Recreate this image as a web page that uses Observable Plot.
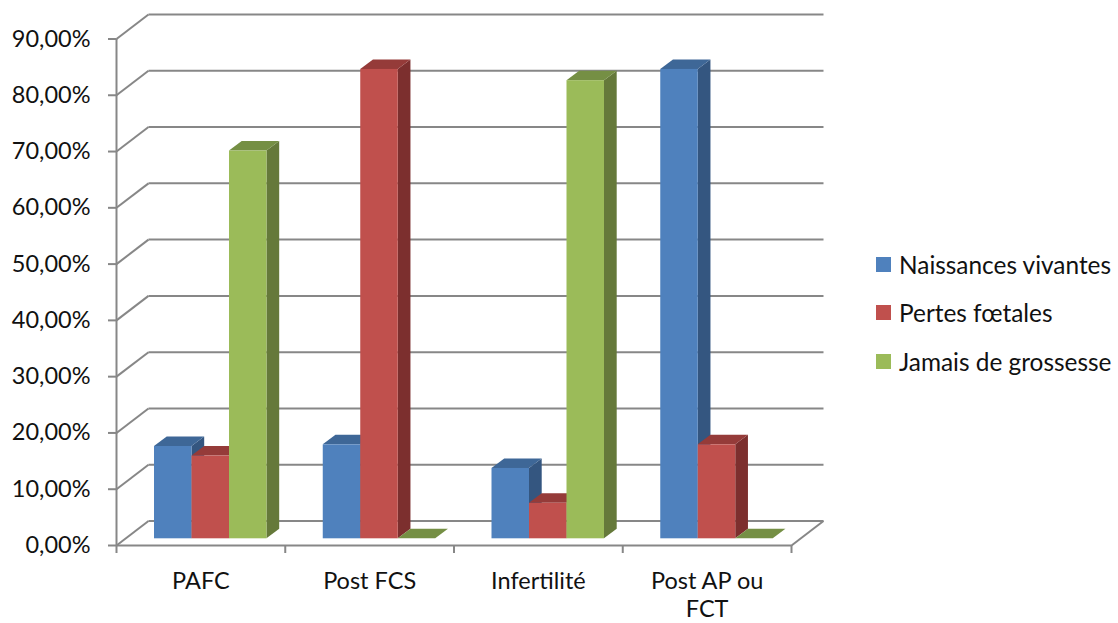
<!DOCTYPE html>
<html lang="fr">
<head>
<meta charset="utf-8">
<script src="https://cdn.jsdelivr.net/npm/d3@7"></script>
<script src="https://cdn.jsdelivr.net/npm/@observablehq/plot@0.6"></script>
<style>
html,body{margin:0;padding:0;background:#fff;}
#wrap{position:relative;width:1118px;height:623px;overflow:hidden;}
#legend{position:absolute;left:876px;top:240px;font:24.4px Lato,sans-serif;color:#111;}
#legend div{display:flex;align-items:center;height:48.5px;white-space:nowrap;}
#legend i{display:block;width:15px;height:15px;margin-right:8px;}
</style>
</head>
<body>
<div id="wrap"><div id="chart"></div><div id="legend"></div></div>
<script>
const categories = ["PAFC", "Post FCS", "Infertilité", "Post AP ou\nFCT"];
const seriesNames = ["Naissances vivantes", "Pertes fœtales", "Jamais de grossesse"];
const naissances = [16.4, 16.7, 12.5, 83.4];
const pertes = [14.7, 83.4, 6.3, 16.7];
const jamais = [68.9, 0, 81.4, 0];
const yTicks = [0, 10, 20, 30, 40, 50, 60, 70, 80, 90];
const frontColors = ["#4F81BD", "#C0504D", "#9BBB59"];
const topColors = ["#3E6797", "#953B39", "#758F44"];
const sideColors = ["#345680", "#7C2F2E", "#65793A"];

// oblique projection, in scale units
const wallDx = 0.1896, wallDy = 4.35;
const barLeft = 0.2252, barW = 0.2222;
const barZ = 6.7 / 5.63, barDx = 0.0753, barDy = 1.69;
const gridColor = "#878787";

const values = [naissances, pertes, jamais];
const marks = [];

// back wall + left wall + floor
marks.push(
  Plot.link(yTicks, {x1: wallDx, x2: 4 + wallDx, y1: d => d + wallDy, y2: d => d + wallDy, stroke: gridColor, strokeWidth: 2}),
  Plot.link(yTicks, {x1: 0, x2: wallDx, y1: d => d, y2: d => d + wallDy, stroke: gridColor, strokeWidth: 2}),
  Plot.link([4], {x1: d => d, x2: d => d + wallDx, y1: 0, y2: wallDy, stroke: gridColor, strokeWidth: 2}),
  Plot.ruleX([0], {y1: 0, y2: 90, stroke: gridColor, strokeWidth: 2}),
  Plot.ruleY([0], {x1: 0, x2: 4, stroke: gridColor, strokeWidth: 2})
);

// bars, painted left to right
categories.forEach((_, i) => {
  values.forEach((vals, k) => {
    const v = vals[i];
    const x0 = i + barLeft + k * barW, x1 = x0 + barW;
    const yb = barZ, yt = barZ + v;
    marks.push(
      Plot.areaY([0, 1], {
        x: t => x1 + t * barDx,
        y1: t => yb + t * barDy,
        y2: t => yt + t * barDy,
        fill: sideColors[k]
      }),
      Plot.areaX([0, 1], {
        y: t => yt + t * barDy,
        x1: t => x0 + t * barDx,
        x2: t => x1 + t * barDx,
        fill: topColors[k]
      })
    );
    if (v > 0) marks.push(Plot.rect([v], {x1: x0, x2: x1, y1: yb, y2: yt, fill: frontColors[k]}));
  });
});

// axes
marks.push(
  Plot.axisY({
    ticks: yTicks, tickSize: 8, tickPadding: 18, stroke: gridColor, strokeWidth: 2,
    tickFormat: d => d3.format(".2f")(d).replace(".", ",") + "%",
    fontSize: 23.5, fill: "#111", label: null, anchor: "left"
  }),
  Plot.axisX({ticks: [0, 1, 2, 3, 4], tickSize: 8, stroke: gridColor, strokeWidth: 2, tickFormat: () => "", label: null, anchor: "bottom"}),
  Plot.axisX({
    ticks: categories.map((_, i) => i + 0.5), tickSize: 0, tickPadding: 23.5,
    tickFormat: d => categories[Math.floor(d)],
    fontSize: 23.5, lineHeight: 1.2, fill: "#111", label: null, anchor: "bottom"
  })
);

const chart = Plot.plot({
  width: 1118, height: 623,
  marginLeft: 116, marginRight: 295, marginTop: 14, marginBottom: 78,
  style: {fontFamily: "Lato, sans-serif", background: "#fff"},
  x: {type: "linear", domain: [0, 4 + wallDx], axis: null},
  y: {type: "linear", domain: [0, 90 + wallDy], axis: null},
  marks
});
document.getElementById("chart").appendChild(chart);

const legend = document.getElementById("legend");
seriesNames.forEach((name, k) => {
  const row = document.createElement("div");
  const sw = document.createElement("i");
  sw.style.background = frontColors[k];
  row.appendChild(sw);
  row.appendChild(document.createTextNode(name));
  legend.appendChild(row);
});
</script>
</body>
</html>
